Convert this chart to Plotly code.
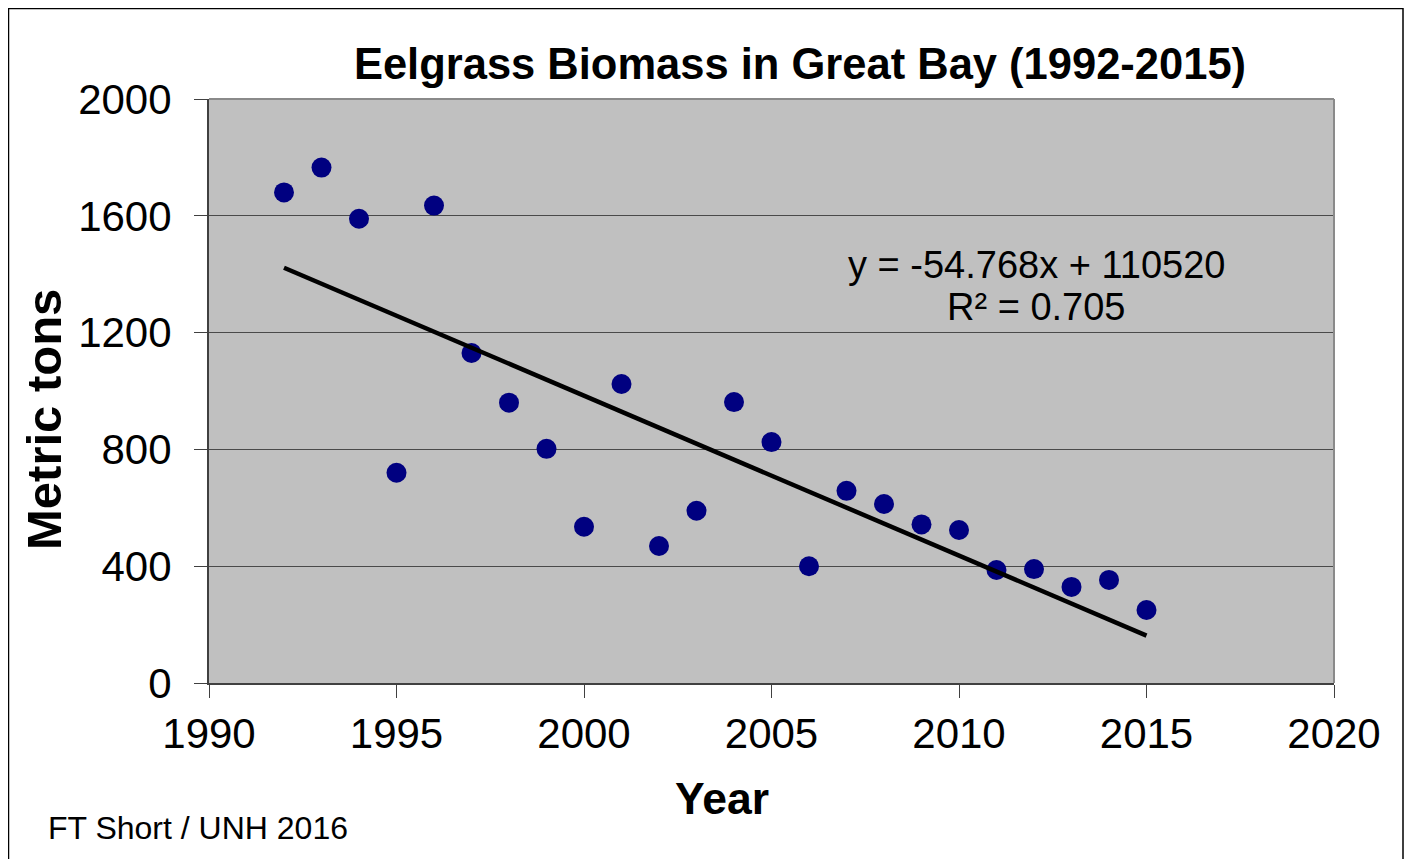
import plotly.graph_objects as go

years = [1992, 1993, 1994, 1995, 1996, 1997, 1998, 1999, 2000, 2001, 2002, 2003,
         2004, 2005, 2006, 2007, 2008, 2009, 2010, 2011, 2012, 2013, 2014, 2015]
biomass = [1680, 1765, 1590, 720, 1635, 1130, 960, 802, 535, 1024, 469, 590,
           962, 825, 400, 658, 613, 543, 524, 387, 390, 329, 353, 250]

slope = -54.768
intercept = 110520
r_squared = 0.705

x_ticks = [1990, 1995, 2000, 2005, 2010, 2015, 2020]
y_ticks = [0, 400, 800, 1200, 1600, 2000]

trend_x = [years[0], years[-1]]
trend_y = [slope * x + intercept for x in trend_x]

FONT = "Liberation Sans, Arial, sans-serif"

fig = go.Figure()
fig.add_trace(go.Scatter(
    x=years, y=biomass, mode="markers",
    marker=dict(size=20, color="#000080", line=dict(width=0)),
    showlegend=False, hoverinfo="x+y"))
fig.add_trace(go.Scatter(
    x=trend_x, y=trend_y, mode="lines",
    line=dict(color="black", width=4.5),
    showlegend=False))

# page has an 8px body margin; work in page pixel coordinates and offset
OFF = 8
W, H = 1412 - OFF, 859 - OFF
L, R, T, B = 209 - OFF, 1334 - OFF, 99 - OFF, 683 - OFF


def px_x(p):
    return (p - OFF - L) / (R - L)


def px_y(p):
    return (B - (p - OFF)) / (B - T)


fig.update_layout(
    width=W, height=H,
    margin=dict(l=L, r=W - R, t=T, b=H - B, pad=0),
    paper_bgcolor="white", plot_bgcolor="#C0C0C0",
    font=dict(family=FONT, color="black"),
    title=dict(text="<b>Eelgrass Biomass in Great Bay (1992-2015)</b>",
               font=dict(size=43.5, family=FONT, color="black"),
               xref="container", yref="container",
               x=(800 - OFF) / W, xanchor="center", y=1 - (64 - OFF) / H, yanchor="middle"),
    xaxis=dict(range=[1990, 2020], tickvals=x_ticks, ticktext=[str(v) for v in x_ticks],
               showgrid=False, zeroline=False,
               showline=True, linecolor="#404040", linewidth=2,
               ticks="outside", ticklen=13, tickwidth=1.2, tickcolor="#404040",
               tickfont=dict(size=42, family=FONT, color="black"),
               ticklabelstandoff=0),
    yaxis=dict(range=[0, 2000], tickvals=y_ticks, ticktext=[str(v) for v in y_ticks],
               showgrid=True, gridcolor="#4a4a4a", gridwidth=1.3, zeroline=False,
               showline=True, linecolor="#404040", linewidth=2,
               ticks="outside", ticklen=13, tickwidth=1.2, tickcolor="#404040",
               tickfont=dict(size=42, family=FONT, color="black"),
               ticklabelstandoff=14),
)

eq_text = f"y = {slope:.3f}x + {intercept}"
r2_text = f"R² = {r_squared:.3f}"

fig.add_annotation(text=eq_text, xref="paper", yref="paper",
                   x=px_x(1036), y=px_y(265), xanchor="center", yanchor="middle",
                   showarrow=False, font=dict(size=38, family=FONT, color="black"))
fig.add_annotation(text=r2_text, xref="paper", yref="paper",
                   x=px_x(1036), y=px_y(307), xanchor="center", yanchor="middle",
                   showarrow=False, font=dict(size=38, family=FONT, color="black"))

fig.add_annotation(text="<b>Year</b>", xref="paper", yref="paper",
                   x=px_x(722), y=px_y(798), xanchor="center", yanchor="middle",
                   showarrow=False, font=dict(size=44.5, family=FONT, color="black"))
fig.add_annotation(text="<b>Metric tons</b>", xref="paper", yref="paper",
                   x=px_x(44), y=px_y(420), xanchor="center", yanchor="middle",
                   textangle=-90, showarrow=False,
                   font=dict(size=49, family=FONT, color="black"))
fig.add_annotation(text="FT Short / UNH 2016", xref="paper", yref="paper",
                   x=px_x(46), y=px_y(828), xanchor="left", yanchor="middle",
                   showarrow=False, font=dict(size=32, family=FONT, color="black"))

# plot-area frame (top/right edges)
fig.add_shape(type="line", xref="paper", yref="paper", x0=0, x1=1, y0=1, y1=1,
              line=dict(color="#8a8a8a", width=2), layer="above")
fig.add_shape(type="line", xref="paper", yref="paper", x0=1, x1=1, y0=0, y1=1,
              line=dict(color="#8a8a8a", width=2), layer="above")
# outer chart border
fig.add_shape(type="rect", xref="paper", yref="paper",
              x0=px_x(8.5), x1=px_x(1403), y0=px_y(875), y1=px_y(8.5),
              line=dict(color="black", width=1.5), fillcolor="rgba(0,0,0,0)", layer="below")

fig.write_html("out.html")
